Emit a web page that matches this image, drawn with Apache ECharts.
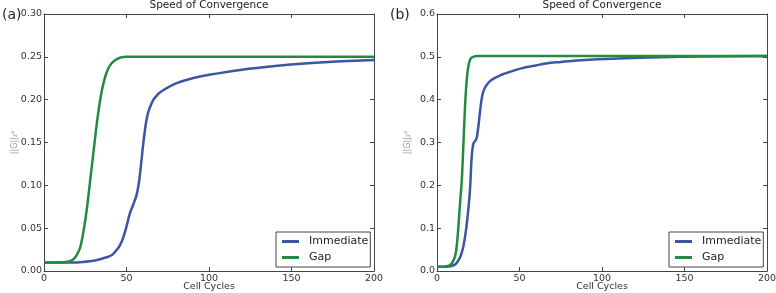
<!DOCTYPE html>
<html>
<head>
<meta charset="utf-8">
<script src="https://cdn.jsdelivr.net/npm/echarts@6/dist/echarts.min.js"></script>
<style>
  html, body { margin: 0; padding: 0; background: #fff; }
  #chart { width: 776px; height: 293px; }
</style>
</head>
<body>
<div id="chart"></div>
<script>
// panel (a)
var gapA_x = [0, 10, 15, 18, 20, 22, 24, 26, 28, 30, 32, 34, 36, 38, 40, 43, 46, 50, 60, 100, 150, 200];
var gapA_y = [0.010, 0.010, 0.011, 0.014, 0.019, 0.028, 0.047, 0.073, 0.106, 0.139, 0.172, 0.199, 0.219, 0.232, 0.240, 0.246, 0.249, 0.250, 0.250, 0.250, 0.250, 0.250];
var immA_x = [0, 20, 30, 34, 38, 40, 42, 44, 46, 48, 50, 52, 54, 56, 57, 58, 59, 60, 61, 62, 63, 64, 66, 68, 70, 74, 80, 90, 100, 120, 140, 160, 180, 200];
var immA_y = [0.010, 0.010, 0.012, 0.0137, 0.016, 0.0175, 0.020, 0.0245, 0.030, 0.039, 0.052, 0.067, 0.077, 0.088, 0.097, 0.110, 0.128, 0.146, 0.162, 0.175, 0.184, 0.190, 0.199, 0.204, 0.208, 0.213, 0.219, 0.225, 0.229, 0.235, 0.2393, 0.2425, 0.2448, 0.2463];

// panel (b)
var gapB_x = [0, 4, 6, 8, 9, 10, 11, 12, 13, 14, 15, 16, 17, 18, 19, 20, 21, 22, 24, 30, 100, 200];
var gapB_y = [0.010, 0.010, 0.011, 0.014, 0.018, 0.025, 0.035, 0.060, 0.105, 0.160, 0.210, 0.295, 0.385, 0.445, 0.478, 0.493, 0.498, 0.500, 0.502, 0.502, 0.502, 0.502];
var immB_x = [0, 6, 8, 10, 12, 14, 15, 16, 17, 18, 19, 20, 21, 22, 23, 24, 25, 26, 27, 28, 30, 33, 39, 45, 51, 60, 67, 75, 83, 95, 110, 135, 160, 200];
var immB_y = [0.010, 0.010, 0.011, 0.013, 0.019, 0.032, 0.043, 0.058, 0.080, 0.108, 0.145, 0.190, 0.265, 0.297, 0.303, 0.310, 0.335, 0.370, 0.400, 0.418, 0.434, 0.446, 0.458, 0.466, 0.473, 0.480, 0.485, 0.488, 0.491, 0.494, 0.496, 0.499, 0.501, 0.502];

var xTicks = [0, 50, 100, 150, 200];
var yTicksA = [0, 0.05, 0.10, 0.15, 0.20, 0.25, 0.30];
var yTicksB = [0, 0.1, 0.2, 0.3, 0.4, 0.5, 0.6];

var BLUE = '#3b56a2';
var GREEN = '#248a42';
var FRAME = '#444';
var FONT = 'DejaVu Sans';

function pairs(xs, ys) {
  return xs.map(function (x, i) { return [x, ys[i]]; });
}

function xAx(grid, pos) {
  return {
    type: 'value', gridIndex: grid, position: pos,
    min: xTicks[0], max: xTicks[xTicks.length - 1], interval: 50,
    name: pos === 'bottom' ? 'Cell Cycles' : '',
    nameLocation: 'middle', nameGap: 11, nameMoveOverlap: false,
    nameTextStyle: { fontFamily: FONT, fontSize: 9.5, color: '#333', verticalAlign: 'top' },
    axisLine: { show: true, onZero: false, lineStyle: { color: FRAME, width: 1 } },
    axisTick: { show: true, inside: true, length: 4, lineStyle: { color: FRAME } },
    axisLabel: { show: pos === 'bottom', margin: 3, fontFamily: FONT, fontSize: 9.5, color: '#333' },
    splitLine: { show: false }
  };
}

function yAx(grid, pos, ticks, dec) {
  var step = ticks[1] - ticks[0];
  return {
    type: 'value', gridIndex: grid, position: pos,
    min: 0, max: ticks[ticks.length - 1], interval: step,
    name: pos === 'left' ? '||G||\u2082\u00b2' : '',
    nameLocation: 'middle', nameRotate: 90, nameGap: 25, nameMoveOverlap: false,
    nameTextStyle: { fontFamily: FONT, fontSize: 8, color: '#999' },
    axisLine: { show: true, onZero: false, lineStyle: { color: FRAME, width: 1 } },
    axisTick: { show: true, inside: true, length: 4, lineStyle: { color: FRAME } },
    axisLabel: {
      show: pos === 'left', margin: 2, fontFamily: FONT, fontSize: 9.5, color: '#333',
      formatter: function (v) { return v.toFixed(dec); }
    },
    splitLine: { show: false }
  };
}

function line(name, color, xi, yi, data) {
  return {
    name: name, type: 'line', xAxisIndex: xi, yAxisIndex: yi,
    data: data, showSymbol: false, smooth: 0.3,
    lineStyle: { color: color, width: 2.5 }, itemStyle: { color: color }
  };
}

function legend(left) {
  return {
    data: ['Immediate', 'Gap'], orient: 'vertical', left: left, top: 232,
    icon: 'rect', itemWidth: 17, itemHeight: 3, itemGap: 3,
    padding: [3, 2, 3, 6], backgroundColor: '#fff',
    borderColor: FRAME, borderWidth: 1, borderRadius: 0,
    selectedMode: false,
    textStyle: { fontFamily: FONT, fontSize: 11, lineHeight: 13, color: '#222', padding: [0, 0, 0, 5] }
  };
}

var chart = echarts.init(document.getElementById('chart'));
chart.setOption({
  animation: false,
  title: [
    { text: 'Speed of Convergence', left: 209, textAlign: 'center', top: 0, padding: 0,
      textStyle: { fontFamily: FONT, fontSize: 10.5, fontWeight: 'normal', color: '#222' } },
    { text: 'Speed of Convergence', left: 602, textAlign: 'center', top: 0, padding: 0,
      textStyle: { fontFamily: FONT, fontSize: 10.5, fontWeight: 'normal', color: '#222' } },
    { text: '(a)', left: 2, top: 8, padding: 0,
      textStyle: { fontFamily: FONT, fontSize: 14, fontWeight: 'normal', color: '#222' } },
    { text: '(b)', left: 390, top: 8, padding: 0,
      textStyle: { fontFamily: FONT, fontSize: 14, fontWeight: 'normal', color: '#222' } }
  ],
  grid: [
    { left: 44, top: 14, width: 330, height: 257, outerBoundsMode: 'none' },
    { left: 437, top: 14, width: 330, height: 257, outerBoundsMode: 'none' }
  ],
  xAxis: [xAx(0, 'bottom'), xAx(0, 'top'), xAx(1, 'bottom'), xAx(1, 'top')],
  yAxis: [yAx(0, 'left', yTicksA, 2), yAx(0, 'right', yTicksA, 2), yAx(1, 'left', yTicksB, 1), yAx(1, 'right', yTicksB, 1)],
  legend: [legend(276), legend(669)],
  series: [
    line('Immediate', BLUE, 0, 0, pairs(immA_x, immA_y)),
    line('Gap', GREEN, 0, 0, pairs(gapA_x, gapA_y)),
    line('Immediate', BLUE, 2, 2, pairs(immB_x, immB_y)),
    line('Gap', GREEN, 2, 2, pairs(gapB_x, gapB_y))
  ]
});
</script>
</body>
</html>
